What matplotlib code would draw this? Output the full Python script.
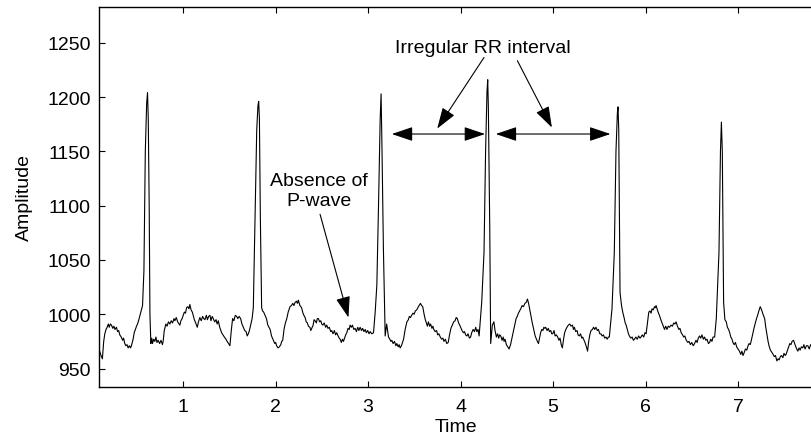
import matplotlib.pyplot as plt

plt.rcParams['font.family'] = ['Liberation Sans', 'DejaVu Sans']

# ECG trace, one list of (time, amplitude) per beat
beat1 = [
    (0.088, 968), (0.10, 965), (0.115, 961), (0.126, 959), (0.14, 975), (0.152, 982),
    (0.165, 986), (0.177, 988), (0.19, 991), (0.20, 988), (0.212, 991), (0.224, 990),
    (0.238, 987), (0.25, 989), (0.262, 986), (0.278, 988), (0.29, 984), (0.302, 985),
    (0.314, 981), (0.33, 979), (0.345, 976), (0.355, 978), (0.368, 973), (0.38, 971),
    (0.392, 972), (0.404, 969), (0.418, 971), (0.43, 969), (0.44, 971), (0.458, 977),
    (0.47, 983), (0.482, 986), (0.495, 989), (0.51, 992), (0.523, 996), (0.538, 1001),
    (0.549, 1005), (0.56, 1008), (0.575, 1040), (0.59, 1150), (0.605, 1195),
    (0.614, 1204), (0.622, 1180), (0.632, 1100), (0.64, 1000), (0.65, 973),
]
beat2 = [
    (0.66, 978), (0.668, 973), (0.68, 977), (0.693, 975), (0.705, 979), (0.716, 974),
    (0.729, 976), (0.745, 973), (0.76, 976), (0.775, 972), (0.783, 975), (0.795, 985),
    (0.812, 991), (0.825, 989), (0.84, 993), (0.856, 991), (0.87, 994), (0.885, 992),
    (0.9, 996), (0.91, 994), (0.925, 997), (0.94, 993), (0.955, 991), (0.964, 990),
    (0.975, 994), (0.988, 996), (1.0, 999), (1.012, 1002), (1.025, 1001), (1.036, 1006),
    (1.05, 1007), (1.062, 1005), (1.072, 1009), (1.085, 1004), (1.098, 1002),
    (1.108, 999), (1.12, 995), (1.135, 992), (1.152, 988), (1.165, 993), (1.18, 997),
    (1.195, 994), (1.21, 998), (1.222, 996), (1.235, 995), (1.25, 999), (1.262, 995),
    (1.275, 998), (1.289, 999), (1.30, 994), (1.313, 998), (1.325, 996), (1.34, 993),
    (1.355, 995), (1.367, 991), (1.379, 994), (1.395, 988), (1.415, 983), (1.43, 981),
    (1.445, 979), (1.462, 977), (1.475, 975), (1.49, 973), (1.505, 971), (1.52, 985),
    (1.534, 996), (1.548, 994), (1.563, 999), (1.578, 998), (1.59, 996), (1.605, 998),
    (1.621, 996), (1.635, 991), (1.65, 988), (1.665, 985), (1.68, 984), (1.692, 980),
    (1.704, 982), (1.716, 985), (1.729, 990), (1.745, 996), (1.758, 1006),
    (1.776, 1088), (1.795, 1170), (1.808, 1192), (1.816, 1196), (1.824, 1180),
    (1.834, 1090), (1.848, 1006),
]
beat3 = [
    (1.858, 1003), (1.87, 1002), (1.885, 999), (1.90, 996), (1.915, 990), (1.928, 988),
    (1.94, 986), (1.955, 980), (1.965, 978), (1.975, 976), (1.99, 973), (2.0, 974),
    (2.01, 971), (2.025, 969), (2.04, 970), (2.055, 972), (2.065, 975), (2.076, 976),
    (2.09, 986), (2.105, 992), (2.12, 996), (2.135, 1002), (2.155, 1007), (2.17, 1008),
    (2.185, 1010), (2.197, 1008), (2.21, 1011), (2.225, 1012), (2.235, 1010),
    (2.245, 1013), (2.262, 1008), (2.28, 1006), (2.295, 1001), (2.305, 999),
    (2.318, 997), (2.33, 993), (2.342, 992), (2.354, 989), (2.37, 988), (2.38, 985),
    (2.39, 987), (2.405, 990), (2.415, 995), (2.426, 994), (2.44, 992), (2.45, 996),
    (2.462, 996), (2.475, 993), (2.488, 994), (2.498, 991), (2.51, 990), (2.525, 992),
    (2.54, 988), (2.552, 990), (2.565, 987), (2.58, 988), (2.595, 984), (2.606, 985),
    (2.62, 982), (2.635, 985), (2.648, 981), (2.66, 983), (2.675, 980), (2.687, 978),
    (2.697, 977), (2.71, 974), (2.722, 977), (2.733, 975), (2.745, 978), (2.757, 981),
    (2.769, 983), (2.782, 987), (2.795, 986), (2.805, 990), (2.818, 988), (2.83, 990),
    (2.845, 986), (2.86, 987), (2.873, 984), (2.888, 988), (2.9, 985), (2.913, 988),
    (2.928, 985), (2.94, 987), (2.955, 984), (2.968, 986), (2.98, 983), (2.995, 985),
    (3.01, 982), (3.022, 984), (3.04, 982), (3.058, 983), (3.076, 1002), (3.094, 1027),
    (3.112, 1100), (3.13, 1180), (3.14, 1203), (3.15, 1150), (3.165, 1060),
    (3.184, 980),
]
beat4 = [
    (3.20, 991), (3.21, 985), (3.22, 979), (3.235, 977), (3.245, 975), (3.256, 976),
    (3.27, 973), (3.285, 975), (3.3, 971), (3.31, 973), (3.325, 970), (3.335, 972),
    (3.346, 969), (3.36, 971), (3.372, 974), (3.383, 977), (3.40, 986), (3.419, 993),
    (3.435, 995), (3.445, 998), (3.458, 997), (3.47, 999), (3.485, 1001), (3.497, 1000),
    (3.51, 1003), (3.525, 1004), (3.538, 1006), (3.55, 1008), (3.566, 1010),
    (3.578, 1008), (3.59, 1007), (3.605, 1000), (3.618, 995), (3.63, 992), (3.64, 989),
    (3.652, 993), (3.665, 989), (3.675, 991), (3.69, 987), (3.70, 989), (3.71, 986),
    (3.725, 984), (3.74, 985), (3.752, 981), (3.765, 982), (3.78, 979), (3.795, 977),
    (3.808, 978), (3.82, 975), (3.835, 977), (3.85, 973), (3.866, 974), (3.88, 981),
    (3.895, 987), (3.91, 990), (3.925, 993), (3.94, 994), (3.952, 997), (3.964, 996),
    (3.978, 992), (3.99, 990), (4.0, 988), (4.015, 985), (4.03, 983), (4.042, 984),
    (4.054, 981), (4.068, 980), (4.08, 982), (4.095, 978), (4.108, 979), (4.12, 983),
    (4.135, 986), (4.15, 984), (4.163, 988), (4.175, 984), (4.188, 986), (4.2, 980),
    (4.228, 1011), (4.253, 1057), (4.27, 1150), (4.285, 1205), (4.293, 1216),
    (4.30, 1190), (4.315, 1080), (4.325, 973),
]
beat5 = [
    (4.343, 990), (4.36, 993), (4.372, 985), (4.387, 979), (4.40, 982), (4.412, 978),
    (4.422, 981), (4.434, 980), (4.448, 976), (4.46, 979), (4.47, 975), (4.48, 977),
    (4.495, 972), (4.51, 970), (4.524, 968), (4.54, 972), (4.55, 976), (4.56, 980),
    (4.575, 986), (4.588, 991), (4.60, 996), (4.612, 998), (4.625, 1001), (4.637, 1003),
    (4.65, 1005), (4.665, 1008), (4.68, 1007), (4.695, 1010), (4.71, 1011),
    (4.723, 1014), (4.735, 1010), (4.748, 1004), (4.76, 999), (4.775, 992), (4.79, 986),
    (4.806, 980), (4.82, 977), (4.83, 975), (4.842, 973), (4.853, 978), (4.865, 983),
    (4.878, 986), (4.89, 985), (4.9, 988), (4.91, 987), (4.92, 988), (4.935, 985),
    (4.948, 987), (4.96, 984), (4.975, 985), (4.985, 982), (4.996, 982), (5.01, 985),
    (5.022, 980), (5.035, 981), (5.05, 979), (5.063, 976), (5.075, 978), (5.088, 972),
    (5.10, 969), (5.115, 978), (5.125, 983), (5.138, 986), (5.15, 988), (5.165, 990),
    (5.18, 991), (5.195, 989), (5.21, 990), (5.22, 986), (5.23, 988), (5.245, 984),
    (5.26, 985), (5.27, 981), (5.283, 980), (5.297, 982), (5.31, 978), (5.32, 979),
    (5.33, 977), (5.345, 974), (5.36, 970), (5.373, 966), (5.385, 975), (5.397, 981),
    (5.41, 985), (5.425, 986), (5.438, 988), (5.45, 986), (5.464, 988), (5.478, 985),
    (5.49, 986), (5.505, 982), (5.518, 982), (5.53, 980), (5.545, 981), (5.558, 978),
    (5.572, 979), (5.585, 977), (5.597, 979), (5.608, 979), (5.637, 1005),
    (5.662, 1057), (5.68, 1150), (5.695, 1185), (5.702, 1191), (5.71, 1170),
    (5.724, 1020),
]
beat6 = [
    (5.74, 1008), (5.753, 1002), (5.77, 996), (5.78, 992), (5.79, 990), (5.805, 985),
    (5.815, 982), (5.825, 980), (5.84, 978), (5.855, 979), (5.868, 976), (5.88, 977),
    (5.895, 979), (5.91, 977), (5.925, 980), (5.94, 978), (5.95, 979), (5.965, 981),
    (5.98, 979), (5.993, 983), (6.006, 982), (6.02, 992), (6.035, 1002), (6.048, 1003),
    (6.06, 1001), (6.07, 1005), (6.083, 1004), (6.097, 1007), (6.105, 1006),
    (6.114, 1008), (6.128, 1004), (6.14, 1001), (6.15, 999), (6.165, 995), (6.178, 992),
    (6.19, 989), (6.205, 986), (6.218, 989), (6.232, 986), (6.245, 989), (6.26, 988),
    (6.275, 990), (6.29, 989), (6.305, 992), (6.318, 991), (6.33, 993), (6.345, 989),
    (6.36, 986), (6.372, 987), (6.385, 983), (6.4, 981), (6.413, 979), (6.425, 980),
    (6.44, 976), (6.458, 974), (6.47, 975), (6.485, 972), (6.5, 974), (6.515, 971),
    (6.53, 973), (6.545, 976), (6.558, 974), (6.57, 978), (6.584, 980), (6.597, 978),
    (6.61, 981), (6.625, 977), (6.638, 979), (6.652, 976), (6.665, 977), (6.68, 973),
    (6.692, 974), (6.705, 977), (6.718, 975), (6.73, 979), (6.747, 979), (6.765, 996),
    (6.794, 1057), (6.81, 1150), (6.82, 1177), (6.83, 1150), (6.844, 1011),
]
tail = [
    (6.858, 995), (6.873, 993), (6.885, 988), (6.898, 986), (6.91, 983), (6.922, 979),
    (6.935, 977), (6.945, 974), (6.958, 972), (6.972, 974), (6.985, 970), (7.0, 968),
    (7.015, 966), (7.03, 963), (7.042, 966), (7.054, 962), (7.068, 965), (7.08, 968),
    (7.095, 967), (7.108, 971), (7.12, 973), (7.132, 972), (7.144, 976), (7.16, 982),
    (7.175, 988), (7.188, 992), (7.2, 996), (7.212, 999), (7.225, 1003), (7.24, 1007),
    (7.255, 1004), (7.27, 1000), (7.288, 996), (7.30, 988), (7.315, 980), (7.325, 975),
    (7.335, 971), (7.35, 967), (7.365, 965), (7.38, 963), (7.392, 961), (7.405, 962),
    (7.42, 957), (7.433, 959), (7.445, 958), (7.458, 961), (7.47, 962), (7.485, 960),
    (7.497, 964), (7.51, 962), (7.52, 963), (7.535, 967), (7.548, 970), (7.56, 973),
    (7.572, 972), (7.585, 975), (7.6, 976), (7.612, 973), (7.625, 970), (7.635, 968),
    (7.647, 966), (7.66, 969), (7.672, 967), (7.685, 970), (7.70, 969), (7.712, 972),
    (7.725, 968), (7.74, 971), (7.755, 971), (7.77, 968), (7.785, 972), (7.80, 970),
]

# annotation positions (time, amplitude)
rr_spans = [(3.256, 4.264), (4.38, 5.62)]
rr_level = 1166
rr_text_pos = (4.24, 1246)
rr_arrows = [((4.253, 1236.5), (3.747, 1171)), ((4.614, 1233.5), (4.987, 1172))]
p_text_pos = (2.466, 1114)
p_arrow = ((2.48, 1092), (2.787, 997))

trace = beat1 + beat2 + beat3 + beat4 + beat5 + beat6 + tail
time = [p[0] for p in trace]
amplitude = [p[1] for p in trace]

fig = plt.figure(figsize=(8.12, 4.39), dpi=100)
ax = fig.add_axes([0.1219, 0.1162, 0.8781, 0.8656])

ax.plot(time, amplitude, color='black', linewidth=0.8)

head = dict(arrowstyle='-|>,head_length=0.65,head_width=0.22', color='black',
            linewidth=0.8, mutation_scale=20, shrinkA=0, shrinkB=0)
both = dict(head, arrowstyle='<|-|>,head_length=0.65,head_width=0.22')

for a, b in rr_spans:
    ax.annotate('', xy=(b, rr_level), xytext=(a, rr_level), arrowprops=both)
for start, tip in rr_arrows:
    ax.annotate('', xy=tip, xytext=start, arrowprops=head)
ax.annotate('', xy=p_arrow[1], xytext=p_arrow[0], arrowprops=head)

ax.text(*rr_text_pos, 'Irregular RR interval', ha='center', va='center', fontsize=14)
ax.text(*p_text_pos, 'Absence of\nP-wave', ha='center', va='center', fontsize=14,
        linespacing=1.2)

ax.set_xlim(0.089, 7.80)
ax.set_ylim(933, 1283)
ax.set_xticks([1, 2, 3, 4, 5, 6, 7])
ax.set_yticks([950, 1000, 1050, 1100, 1150, 1200, 1250])
ax.tick_params(direction='in', length=4, width=0.8, labelsize=14, top=True)
ax.tick_params(axis='x', pad=8)
ax.tick_params(axis='y', pad=6)
ax.spines['right'].set_visible(False)
for s in ['left', 'bottom', 'top']:
    ax.spines[s].set_linewidth(1.0)

ax.set_xlabel('Time', fontsize=14, labelpad=2)
ax.set_ylabel('Amplitude', fontsize=14, labelpad=10)

fig.savefig('out.png', dpi=100)
